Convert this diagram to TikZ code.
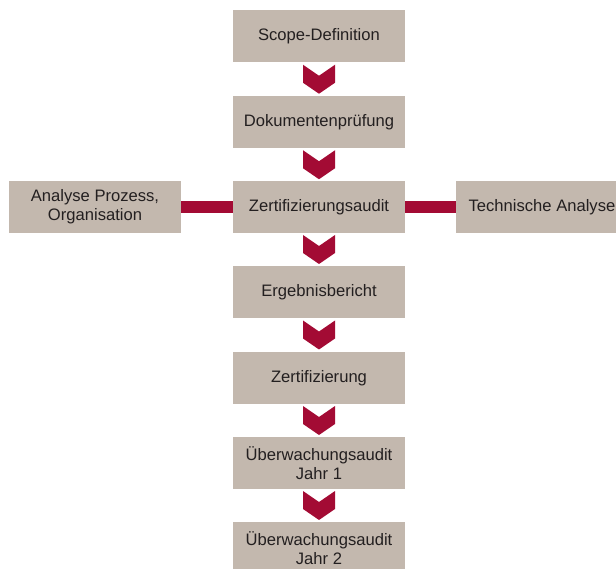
\documentclass[tikz,border=0pt]{standalone}
\usepackage{fontspec}
\setmainfont{Liberation Sans}

\definecolor{boxgray}{HTML}{C3B8AE}
\definecolor{chevred}{HTML}{A30B34}
\definecolor{txtgray}{HTML}{231F20}

\tikzset{
  stepbox/.style={rectangle, fill=boxgray, text=txtgray, minimum width=172pt,
    minimum height=52pt, inner sep=0pt, align=center,
    font=\fontsize{16.6}{18.6}\selectfont},
  chevron/.pic={\fill[chevred] (-16,-14.5) -- (0,-3.5) -- (16,-14.5)
    -- (16,3.5) -- (0,14.5) -- (-16,3.5) -- cycle;},
  bar/.style={draw=chevred, line width=12pt}
}

\begin{document}
\begin{tikzpicture}[x=1pt,y=-1pt]
  \useasboundingbox (0,0) rectangle (616,569);
  \clip (0,0) rectangle (616,569);
  % main column
  \node[stepbox] (scope) at (319,36) {Scope-Definition};
  \node[stepbox] (pruef) at (319,122.5) {Dokumentenprüfung};
  \node[stepbox] (audit) at (319,207) {Zertifizierungsaudit};
  \node[stepbox] (bericht) at (319,292) {Ergebnisbericht};
  \node[stepbox] (zert) at (319,378) {Zertifizierung};
  \node[stepbox] (ueber1) at (319,463) {Überwachungsaudit\\Jahr 1};
  \node[stepbox] (ueber2) at (319,548) {Überwachungsaudit\\Jahr 2};
  % side analyses
  \node[stepbox] (prozess) at (95,207) {Analyse Prozess,\\Organisation};
  \node[stepbox] (technik) at (542,207) {Technische Analyse};
  \draw[bar] (prozess.east) -- (audit.west);
  \draw[bar] (audit.east) -- (technik.west);
  % chevrons
  \foreach \a/\b in {scope/pruef, pruef/audit, audit/bericht, bericht/zert,
                     zert/ueber1, ueber1/ueber2} {
    \path (\a.south) -- coordinate[midway] (m) (\b.north);
    \pic at (m) {chevron};
  }
\end{tikzpicture}
\end{document}
